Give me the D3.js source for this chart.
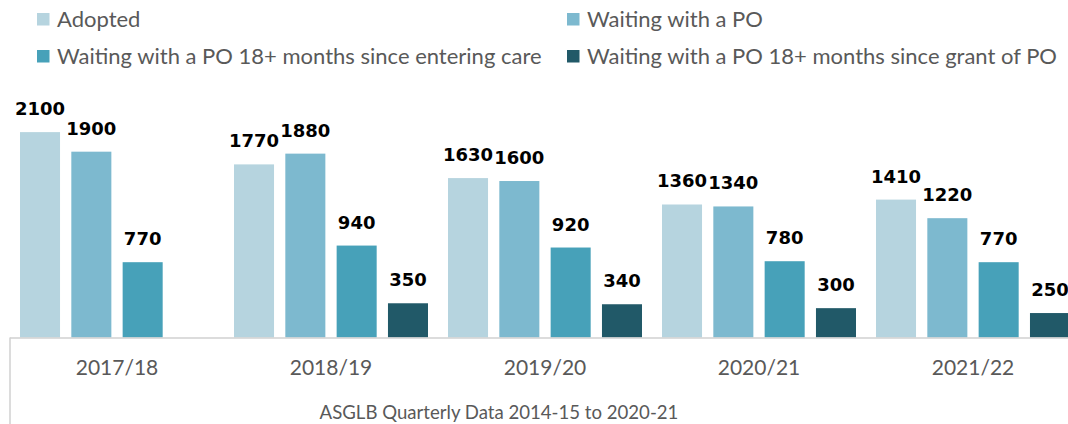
<!DOCTYPE html>
<html>
<head>
<meta charset="utf-8">
<script src="https://cdn.jsdelivr.net/npm/d3@7"></script>
<style>
  body { margin: 0; background: #fff; }
  svg { display: block; }
</style>
</head>
<body>
<svg id="chart"></svg>
<script>
const width = 1068;
const height = 424;

const years = ['2017/18', '2018/19', '2019/20', '2020/21', '2021/22'];
const seriesNames = [
    'Adopted',
    'Waiting with a PO',
    'Waiting with a PO 18+ months since entering care',
    'Waiting with a PO 18+ months since grant of PO'
];
const adopted = [2100, 1770, 1630, 1360, 1410];
const waitingPO = [1900, 1880, 1600, 1340, 1220];
const waitingEntering = [770, 940, 920, 780, 770];
const waitingGrant = [null, 350, 340, 300, 250];
const axisTitle = 'ASGLB Quarterly Data 2014-15 to 2020-21';

const seriesValues = [adopted, waitingPO, waitingEntering, waitingGrant];
const colors = ['#b6d4df', '#7db9cf', '#47a1b9', '#215968'];

const baseY = 337.5;
const textFont = 'Lato, "Open Sans", sans-serif';

const svg = d3.select('#chart')
    .attr('width', width)
    .attr('height', height);

const xScale = d3.scaleBand().domain(years).range([10, 1080]);
const inner = d3.scaleBand()
    .domain(d3.range(seriesNames.length))
    .range([10, xScale.bandwidth() - 10])
    .paddingInner(0.22)
    .paddingOuter(0);
const yScale = d3.scaleLinear().domain([0, 2500]).range([baseY, baseY - 244.5]);

// bars
const groups = svg.selectAll('.year')
    .data(years)
    .enter()
    .append('g')
    .attr('class', 'year')
    .attr('transform', d => `translate(${xScale(d)},0)`);

groups.each(function(year, yi) {
    const g = d3.select(this);
    const rows = seriesValues.map((vals, si) => ({ si, v: vals[yi] })).filter(d => d.v != null);

    g.selectAll('rect')
        .data(rows)
        .enter()
        .append('rect')
        .attr('x', d => inner(d.si))
        .attr('width', inner.bandwidth())
        .attr('y', d => yScale(d.v))
        .attr('height', d => baseY - yScale(d.v))
        .attr('fill', d => colors[d.si]);

    g.selectAll('text.val')
        .data(rows)
        .enter()
        .append('text')
        .attr('class', 'val')
        .attr('x', d => inner(d.si) + inner.bandwidth() / 2)
        .attr('y', d => yScale(d.v) - 17)
        .attr('text-anchor', 'middle')
        .style('font-family', '"DejaVu Sans", sans-serif')
        .style('font-weight', 'bold')
        .style('font-size', '18px')
        .style('fill', '#000')
        .text(d => d.v);
});

// axis lines
svg.append('line')
    .attr('x1', 10).attr('x2', width)
    .attr('y1', baseY + 0.5).attr('y2', baseY + 0.5)
    .attr('stroke', '#d0d0d0').attr('stroke-width', 1.5);
svg.append('line')
    .attr('x1', 10).attr('x2', 10)
    .attr('y1', baseY).attr('y2', height)
    .attr('stroke', '#d0d0d0').attr('stroke-width', 1.5);

// category labels
svg.selectAll('.cat')
    .data(years)
    .enter()
    .append('text')
    .attr('class', 'cat')
    .attr('x', d => xScale(d) + xScale.bandwidth() / 2)
    .attr('y', 374.5)
    .attr('text-anchor', 'middle')
    .style('font-family', textFont)
    .style('font-size', '21px')
    .style('fill', '#595959')
    .text(d => d);

svg.append('text')
    .attr('x', 499)
    .attr('y', 419)
    .attr('text-anchor', 'middle')
    .style('font-family', textFont)
    .style('font-size', '18.6px')
    .style('fill', '#595959')
    .text(axisTitle);

// legend
const legendPos = [[37, 13], [567, 13], [37, 50], [567, 50]];
const legend = svg.selectAll('.legend-item')
    .data(seriesNames)
    .enter()
    .append('g')
    .attr('class', 'legend-item')
    .attr('transform', (d, i) => `translate(${legendPos[i][0]},${legendPos[i][1]})`);

legend.append('rect')
    .attr('width', 12.5)
    .attr('height', 12.5)
    .attr('fill', (d, i) => colors[i]);

legend.append('text')
    .attr('x', 20)
    .attr('y', 14)
    .style('font-family', textFont)
    .style('font-size', '22px')
    .style('fill', '#595959')
    .text(d => d);
</script>
</body>
</html>
